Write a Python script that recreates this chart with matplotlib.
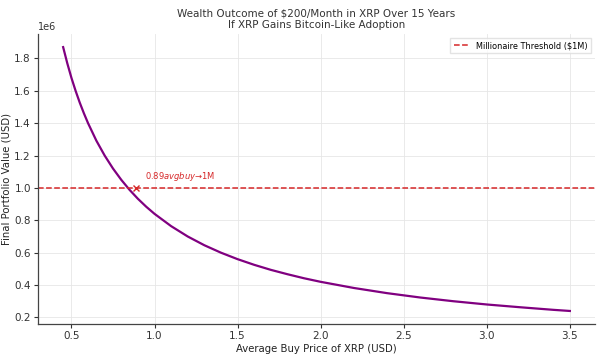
"""Wealth outcome of $200/month in XRP vs average buy price."""

import matplotlib

matplotlib.use("Agg")

import matplotlib.pyplot as plt  # noqa: E402

# values
avg_price = [0.45, 0.475, 0.50, 0.525, 0.55, 0.575, 0.60, 0.65, 0.70, 0.75,
             0.80, 0.85, 0.90, 0.95, 1.00, 1.10, 1.20, 1.30, 1.40, 1.50,
             1.60, 1.70, 1.80, 1.90, 2.00, 2.20, 2.40, 2.60, 2.80, 3.00,
             3.20, 3.40, 3.50]
final_value = [1.870e6, 1.770e6, 1.680e6, 1.600e6, 1.527e6, 1.461e6, 1.400e6,
               1.292e6, 1.200e6, 1.120e6, 1.050e6, 0.988e6, 0.933e6, 0.884e6,
               0.840e6, 0.764e6, 0.700e6, 0.646e6, 0.600e6, 0.560e6, 0.525e6,
               0.494e6, 0.467e6, 0.442e6, 0.420e6, 0.382e6, 0.350e6, 0.323e6,
               0.300e6, 0.280e6, 0.263e6, 0.247e6, 0.240e6]
threshold = 1_000_000
break_even_price = 0.89
title = "Wealth Outcome of $200/Month in XRP Over 15 Years\nIf XRP Gains Bitcoin-Like Adoption"

fig, ax = plt.subplots(figsize=(6, 3.57), dpi=100)
fig.subplots_adjust(left=0.063, right=0.992, bottom=0.092, top=0.905)

ax.plot(avg_price, final_value, color="purple", linewidth=1.6)
ax.axhline(threshold, color="#d62728", linestyle="--", linewidth=1.1,
           label="Millionaire Threshold ($1M)")
ax.plot(break_even_price, threshold, marker="x", color="#d62728",
        markersize=4, markeredgewidth=1.0)
ax.text(break_even_price + 0.05, threshold + 0.03e6, "0.89$avg buy$→1M",
        color="#d62728", fontsize=6, va="bottom")

ax.set_title(title, fontsize=7.5, color="#333333", pad=4)
ax.set_xlabel("Average Buy Price of XRP (USD)", fontsize=7.3, color="#222222",
              labelpad=2)
ax.set_ylabel("Final Portfolio Value (USD)", fontsize=7.3, color="#222222")
ax.yaxis.set_label_coords(-0.048, 0.5)
ax.tick_params(labelsize=7.5, colors="#333333", length=3, width=0.8, pad=2)
ax.yaxis.get_offset_text().set_fontsize(7)

for side in ("top", "right"):
    ax.spines[side].set_visible(False)
for side in ("left", "bottom"):
    ax.spines[side].set_color("#444444")
    ax.spines[side].set_linewidth(0.9)

ax.grid(True, color="#e6e6e6", linewidth=0.6)
ax.set_axisbelow(True)
ax.legend(loc="upper right", fontsize=5.85, frameon=True, edgecolor="#dddddd",
          fancybox=False)

fig.savefig("out.png", dpi=100)
